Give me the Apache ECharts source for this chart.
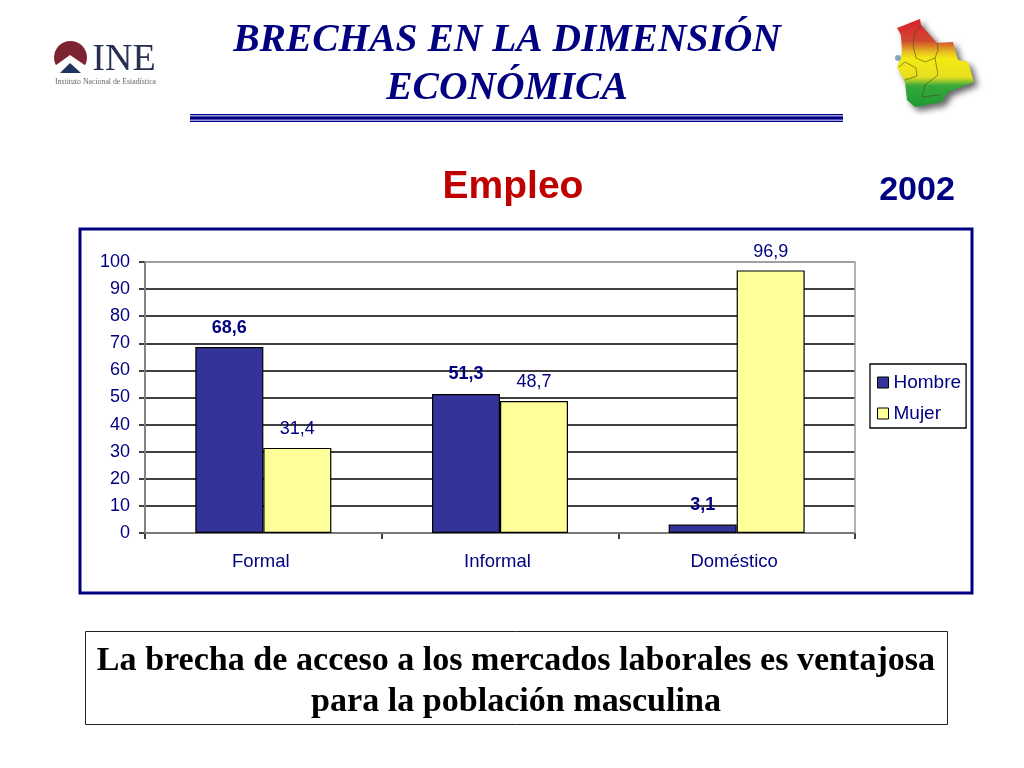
<!DOCTYPE html>
<html><head><meta charset="utf-8">
<style>html,body{margin:0;padding:0;background:#fff}#c{width:1024px;height:768px}</style>
<script src="https://cdn.jsdelivr.net/npm/echarts@6/dist/echarts.min.js"></script>
</head><body><div id="c"></div>
<script>
const categories = ['Formal', 'Informal', 'Doméstico'];
const hombre = [68.6, 51.3, 3.1];
const mujer = [31.4, 48.7, 96.9];
const navy = '#000080';
const chart = echarts.init(document.getElementById('c'));
const comma = p => String(p.value.toFixed(1)).replace('.', ',');
const sans = '"Liberation Sans", Arial, sans-serif';
const serif = '"Liberation Serif", "Times New Roman", serif';
const txt = (x, y, text, font, fill, extra) => ({type: 'text', x, y, z: 5, style: Object.assign({text, font, fill, align: 'center', verticalAlign: 'middle'}, extra || {})});
const barLabel = (weight, dist) => ({show: true, position: 'top', distance: dist, formatter: comma, color: navy, fontFamily: sans, fontSize: 18, fontWeight: weight});
const deptLine = pts => ({type: 'polyline', z: 5, shape: {points: pts}, style: {stroke: '#4a4a20', lineWidth: 0.6, fill: null}});
chart.setOption({
  animation: false,
  backgroundColor: '#fff',
  grid: {left: 145, top: 262, width: 710, height: 271, show: true, borderColor: '#9a9a9a', borderWidth: 1.5, backgroundColor: 'transparent', z: 3},
  xAxis: {type: 'category', data: categories,
    axisLine: {lineStyle: {color: '#000', width: 1.5}},
    axisTick: {show: true, alignWithLabel: false, length: 6, lineStyle: {color: '#000', width: 1.5}},
    axisLabel: {color: navy, fontFamily: sans, fontSize: 18.5, margin: 19, padding: [0, 5, 0, 0]}},
  yAxis: {type: 'value', min: 0, max: 100, interval: 10,
    axisLine: {show: true, lineStyle: {color: '#000', width: 1.5}},
    axisTick: {show: true, length: 6, lineStyle: {color: '#000', width: 1.5}},
    axisLabel: {color: navy, fontFamily: sans, fontSize: 18, margin: 15, padding: [3, 0, 0, 0]},
    splitLine: {show: true, lineStyle: {color: ['#000','#000','#000','#000','#000','#000','#000','#000','#000','#000','#9a9a9a'], width: 1.5}}},
  legend: {orient: 'vertical', left: 870, top: 364, itemWidth: 11, itemHeight: 11, itemGap: 12,
    padding: [9, 5, 5, 7], borderColor: '#000', borderWidth: 1.3, backgroundColor: '#fff',
    textStyle: {color: navy, fontFamily: sans, fontSize: 19},
    itemStyle: {borderWidth: 1, borderColor: '#000'},
    data: [{name: 'Hombre', icon: 'rect'}, {name: 'Mujer', icon: 'rect'}]},
  series: [
    {name: 'Hombre', type: 'bar', data: hombre, barWidth: 68, barGap: 0,
     itemStyle: {color: '#333399', borderColor: '#000', borderWidth: 1.2}, label: barLabel('bold', 10.5), z: 4},
    {name: 'Mujer', type: 'bar', data: mujer, barWidth: 68, barGap: 0,
     itemStyle: {color: '#ffff99', borderColor: '#000', borderWidth: 1.2}, label: barLabel('normal', 9.5), z: 4}
  ],
  graphic: [
    // frame around the chart
    {type: 'rect', z: -1, shape: {x: 80, y: 229, width: 892, height: 364}, style: {fill: '#fff', stroke: navy, lineWidth: 3}},
    // titles
    txt(507, 41, 'BRECHAS EN LA DIMENSIÓN', 'italic bold 39.5px ' + serif, navy),
    txt(507, 89, 'ECONÓMICA', 'italic bold 39.5px ' + serif, navy),
    {type: 'rect', shape: {x: 190, y: 114, width: 653, height: 8}, style: {fill: '#9a9fdc'}},
    {type: 'rect', shape: {x: 190, y: 114, width: 653, height: 1}, style: {fill: navy}},
    {type: 'rect', shape: {x: 190, y: 116.5, width: 653, height: 3}, style: {fill: navy}},
    {type: 'rect', shape: {x: 190, y: 121, width: 653, height: 1}, style: {fill: navy}},
    txt(513, 187, 'Empleo', 'bold 39px ' + sans, '#c00000', {shadowColor: 'rgba(0,0,0,0.55)', shadowBlur: 3, shadowOffsetX: 2, shadowOffsetY: 2}),
    txt(917, 191, '2002', 'bold 34px ' + sans, navy, {shadowColor: 'rgba(0,0,0,0.45)', shadowBlur: 3, shadowOffsetX: 2, shadowOffsetY: 2}),
    // bottom statement
    {type: 'rect', shape: {x: 85.5, y: 631.5, width: 862, height: 93}, style: {fill: '#fff', stroke: '#222', lineWidth: 1}},
    txt(516, 661, 'La brecha de acceso a los mercados laborales es ventajosa', 'bold 34.1px ' + serif, '#000'),
    txt(516, 702, 'para la población masculina', 'bold 34.1px ' + serif, '#000'),
    // INE logo
    {type: 'circle', shape: {cx: 70.5, cy: 57.5, r: 16.5}, style: {fill: '#7d2433'}},
    {type: 'polygon', shape: {points: [[52, 68], [70, 55], [89, 68], [89, 76], [52, 76]]}, style: {fill: '#fff'}},
    {type: 'polygon', shape: {points: [[60, 73], [70, 63], [81, 73]]}, style: {fill: '#1f3560'}},
    txt(124, 60, 'INE', '38px ' + serif, '#27304f', {}),
    txt(105.5, 82, 'Instituto Nacional de Estadística', '7.8px ' + serif, '#666'),
    // Bolivia map emblem
    {type: 'polygon', z: 4, shape: {points: [[897, 28], [920, 19], [921, 25], [937, 43], [953, 42], [958, 60], [968, 62], [974, 82], [948, 92], [942, 102], [915, 107], [907, 100], [905, 82], [897, 67], [902, 53], [901, 35]]},
      style: {fill: new echarts.graphic.LinearGradient(0, 0, 0, 1, [
        {offset: 0, color: '#d81f2a'}, {offset: 0.25, color: '#d04a30'}, {offset: 0.38, color: '#e8c020'}, {offset: 0.45, color: '#f5ea12'}, {offset: 0.66, color: '#e8e020'}, {offset: 0.76, color: '#35a83a'}, {offset: 1, color: '#1f9a35'}]),
        shadowColor: 'rgba(0,0,0,0.6)', shadowBlur: 6, shadowOffsetX: 4, shadowOffsetY: 4}},
    {type: 'circle', z: 4, shape: {cx: 898, cy: 58, r: 3}, style: {fill: '#7aa6c8'}},
    deptLine([[921, 25], [915, 32], [913, 45], [916, 58]]),
    deptLine([[899, 67], [905, 62], [916, 68], [917, 76], [905, 80]]),
    deptLine([[916, 58], [925, 62], [935, 58], [938, 50], [937, 43]]),
    deptLine([[935, 58], [938, 75], [925, 85], [922, 97], [940, 95]])
  ]
});
</script></body></html>
